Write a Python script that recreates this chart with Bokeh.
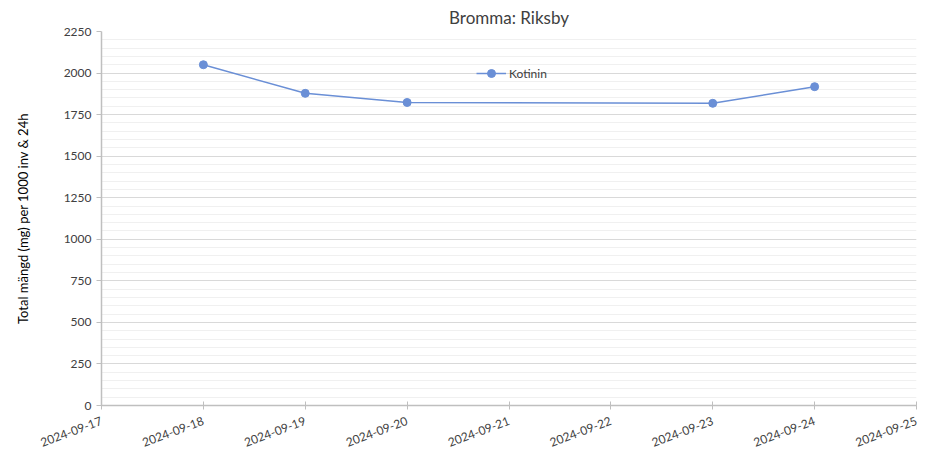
from datetime import datetime
from bokeh.plotting import figure
from bokeh.models import (ColumnDataSource, DatetimeTickFormatter, DaysTicker, Range1d,
                          FixedTicker, Legend, LegendItem)
from bokeh.embed import file_html
from bokeh.resources import INLINE

dates = ["2024-09-18", "2024-09-19", "2024-09-20", "2024-09-23", "2024-09-24"]
kotinin = [2050, 1878, 1823, 1818, 1918]
y_ticks = [0, 250, 500, 750, 1000, 1250, 1500, 1750, 2000, 2250]

x = [datetime.strptime(d, "%Y-%m-%d") for d in dates]
src = ColumnDataSource(dict(x=x, y=kotinin))

FONT = "Lato"
COLOR = "#6a8fd6"

p = figure(frame_width=815, frame_height=374, x_axis_type="datetime", output_backend="svg",
           toolbar_location=None, title="Bromma: Riksby",
           x_range=Range1d(datetime(2024, 9, 17), datetime(2024, 9, 25)),
           y_range=Range1d(0, 2250),
           min_border_left=101, min_border_right=13, min_border_top=10, min_border_bottom=3)

p.title.align = "center"
p.title.text_font = FONT
p.title.text_font_size = "17px"
p.title.text_font_style = "normal"
p.title.text_color = "#404040"
p.title.standoff = 8

p.outline_line_color = None

r = p.line("x", "y", source=src, line_color=COLOR, line_width=1.5)
s = p.scatter("x", "y", source=src, size=8, fill_color=COLOR, line_color=COLOR)

legend = Legend(items=[LegendItem(label="Kotinin", renderers=[r, s])],
                location=(375, 322), orientation="horizontal",
                label_text_font=FONT, label_text_font_size="12px",
                label_text_color="#404040", background_fill_alpha=0,
                border_line_color=None, glyph_width=30, label_standoff=3,
                padding=2, margin=0)
p.add_layout(legend, "center")

p.xaxis.ticker = DaysTicker(days=list(range(1, 32)))
p.xaxis.formatter = DatetimeTickFormatter(days="%Y-%m-%d", months="%Y-%m-%d")
p.xaxis.major_label_orientation = 0.36
p.xaxis.minor_tick_line_color = None
p.xaxis.major_tick_in = 4
p.xaxis.major_tick_out = 4
p.xaxis.major_label_standoff = 11

p.yaxis.ticker = FixedTicker(ticks=y_ticks, minor_ticks=list(range(0, 2251, 50)))
p.yaxis.minor_tick_line_color = None
p.yaxis.major_tick_in = 0
p.yaxis.major_tick_out = 5
p.yaxis.major_label_standoff = 5
p.yaxis.axis_label = "Total mängd (mg) per 1000 inv & 24h"
p.yaxis.axis_label_text_font = FONT
p.yaxis.axis_label_text_font_size = "13px"
p.yaxis.axis_label_text_font_style = "normal"
p.yaxis.axis_label_text_color = "#000000"
p.yaxis.axis_label_standoff = 30

for ax in (p.xaxis, p.yaxis):
    ax.axis_line_color = "#bfbfbf"
    ax.axis_line_width = 1.5
    ax.major_tick_line_color = "#bfbfbf"
    ax.major_label_text_font = FONT
    ax.major_label_text_font_size = "12px"
    ax.major_label_text_color = "#404040"

p.xgrid.grid_line_color = None
p.ygrid.grid_line_color = "#d9d9d9"
p.ygrid.minor_grid_line_color = "#f0f0f0"

open("out.html", "w").write(file_html(p, INLINE))
